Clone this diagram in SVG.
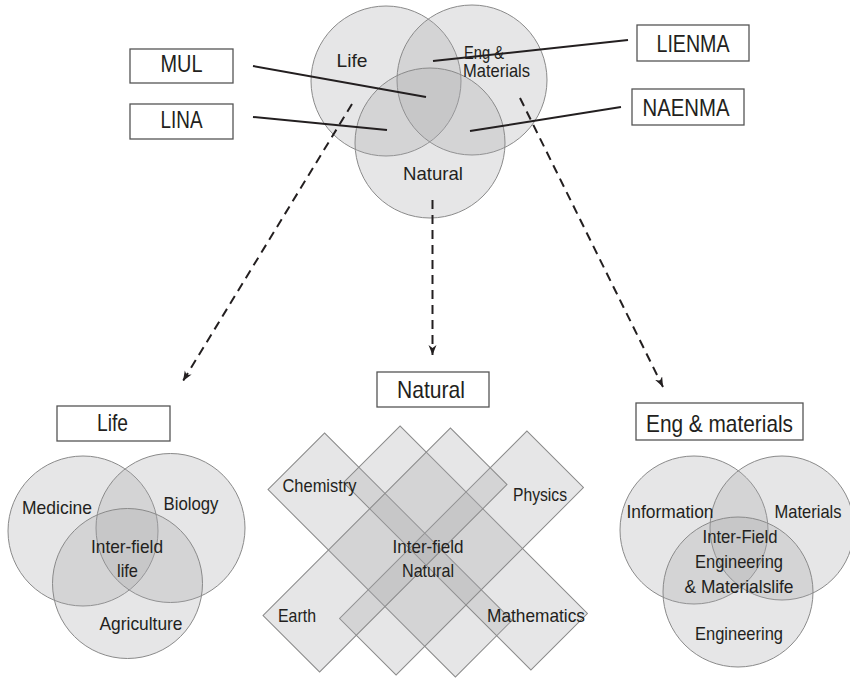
<svg xmlns="http://www.w3.org/2000/svg" width="850" height="678" viewBox="0 0 850 678">
  <defs>
    <style>
      .zone { fill: rgb(166,166,170); fill-opacity: 0.28; stroke: #8a8a8a; stroke-width: 1; }
      .box { fill: #ffffff; stroke: #555555; stroke-width: 1.3; }
      .title { font-family: "Liberation Sans", Arial, sans-serif; font-size: 24px; fill: #231f20; text-anchor: middle; }
      .lbl { font-family: "Liberation Sans", Arial, sans-serif; font-size: 18.5px; fill: #231f20; text-anchor: middle; }
      .lead { stroke: #231f20; stroke-width: 2; fill: none; }
      .dash { stroke: #231f20; stroke-width: 2; fill: none; stroke-dasharray: 9 6; marker-end: url(#head); }
    </style>
    <marker id="head" markerUnits="userSpaceOnUse" markerWidth="12" markerHeight="10" refX="10" refY="4" orient="auto">
      <path d="M0,0 L10,4 L0,8 L3,4 z" fill="#231f20"/>
    </marker>
    <rect id="strip" x="-132.5" y="-40" width="265" height="80"/>
  </defs>

  <!-- overview Venn: Life / Eng & Materials / Natural -->
  <g id="overview">
    <circle class="zone" cx="386" cy="81" r="75"/>
    <circle class="zone" cx="472" cy="80" r="75"/>
    <circle class="zone" cx="430" cy="143" r="75"/>
    <text class="lbl" x="352" y="67" textLength="31" lengthAdjust="spacingAndGlyphs">Life</text>
    <text class="lbl" x="464" y="59" style="text-anchor:start" textLength="40" lengthAdjust="spacingAndGlyphs">Eng &amp;</text>
    <text class="lbl" x="463" y="77" style="text-anchor:start" textLength="67" lengthAdjust="spacingAndGlyphs">Materials</text>
    <text class="lbl" x="433" y="180" textLength="60" lengthAdjust="spacingAndGlyphs">Natural</text>
  </g>

  <!-- overlap tags -->
  <g id="tag-mul">
    <rect class="box" x="130" y="49" width="103" height="34"/>
    <text class="title" x="181.5" y="72" textLength="42" lengthAdjust="spacingAndGlyphs">MUL</text>
  </g>
  <g id="tag-lina">
    <rect class="box" x="130" y="104" width="103" height="35"/>
    <text class="title" x="181.5" y="128" textLength="42" lengthAdjust="spacingAndGlyphs">LINA</text>
  </g>
  <g id="tag-lienma">
    <rect class="box" x="637" y="25" width="112" height="36"/>
    <text class="title" x="693" y="52" textLength="73" lengthAdjust="spacingAndGlyphs">LIENMA</text>
  </g>
  <g id="tag-naenma">
    <rect class="box" x="632" y="89" width="112" height="36"/>
    <text class="title" x="686" y="116" textLength="87" lengthAdjust="spacingAndGlyphs">NAENMA</text>
  </g>

  <!-- connectors -->
  <g id="connectors">
    <line class="lead" x1="253" y1="66" x2="426" y2="97"/>
    <line class="lead" x1="253" y1="117" x2="387" y2="130"/>
    <line class="lead" x1="433" y1="61" x2="628" y2="40"/>
    <line class="lead" x1="470" y1="131" x2="621" y2="107"/>
    <line class="dash" x1="352" y1="104" x2="183" y2="381"/>
    <line class="dash" x1="432.5" y1="200" x2="432.5" y2="355"/>
    <line class="dash" x1="520" y1="98" x2="663" y2="387"/>
  </g>

  <!-- Life detail -->
  <g id="life">
    <rect class="box" x="57" y="406" width="113" height="35"/>
    <text class="title" x="112.5" y="431" textLength="31" lengthAdjust="spacingAndGlyphs">Life</text>
    <circle class="zone" cx="83" cy="531" r="75"/>
    <circle class="zone" cx="170.5" cy="528" r="74.5"/>
    <circle class="zone" cx="127.5" cy="583.5" r="75"/>
    <text class="lbl" x="57" y="514" textLength="70" lengthAdjust="spacingAndGlyphs">Medicine</text>
    <text class="lbl" x="191" y="510" textLength="55" lengthAdjust="spacingAndGlyphs">Biology</text>
    <text class="lbl" x="127" y="553" textLength="72" lengthAdjust="spacingAndGlyphs">Inter-field</text>
    <text class="lbl" x="127.5" y="577" textLength="21" lengthAdjust="spacingAndGlyphs">life</text>
    <text class="lbl" x="141" y="630" textLength="83" lengthAdjust="spacingAndGlyphs">Agriculture</text>
  </g>

  <!-- Natural detail: four crossing strips -->
  <g id="natural">
    <rect class="box" x="377" y="372" width="112" height="35"/>
    <text class="title" x="431" y="398" textLength="68" lengthAdjust="spacingAndGlyphs">Natural</text>
    <use href="#strip" class="zone" transform="translate(390 555) rotate(45)"/>
    <use href="#strip" class="zone" transform="translate(465.5 548) rotate(45)"/>
    <use href="#strip" class="zone" transform="translate(461.5 553) rotate(-45)"/>
    <use href="#strip" class="zone" transform="translate(385 550) rotate(-45)"/>
    <text class="lbl" x="319.5" y="492" textLength="74" lengthAdjust="spacingAndGlyphs">Chemistry</text>
    <text class="lbl" x="540" y="501" textLength="54" lengthAdjust="spacingAndGlyphs">Physics</text>
    <text class="lbl" x="428" y="553" textLength="71" lengthAdjust="spacingAndGlyphs">Inter-field</text>
    <text class="lbl" x="428" y="577" textLength="52" lengthAdjust="spacingAndGlyphs">Natural</text>
    <text class="lbl" x="297" y="622" textLength="38" lengthAdjust="spacingAndGlyphs">Earth</text>
    <text class="lbl" x="536" y="622" textLength="98" lengthAdjust="spacingAndGlyphs">Mathematics</text>
  </g>

  <!-- Eng & materials detail -->
  <g id="eng-materials">
    <rect class="box" x="636" y="403" width="167" height="37"/>
    <text class="title" x="719.5" y="432" textLength="147" lengthAdjust="spacingAndGlyphs">Eng &amp; materials</text>
    <circle class="zone" cx="694" cy="530" r="74"/>
    <circle class="zone" cx="782" cy="528" r="72"/>
    <circle class="zone" cx="738" cy="592" r="75"/>
    <text class="lbl" x="670" y="518" textLength="87" lengthAdjust="spacingAndGlyphs">Information</text>
    <text class="lbl" x="808" y="518" textLength="67" lengthAdjust="spacingAndGlyphs">Materials</text>
    <text class="lbl" x="740" y="543" textLength="75" lengthAdjust="spacingAndGlyphs">Inter-Field</text>
    <text class="lbl" x="739" y="568" textLength="88" lengthAdjust="spacingAndGlyphs">Engineering</text>
    <text class="lbl" x="739" y="593" textLength="109" lengthAdjust="spacingAndGlyphs">&amp; Materialslife</text>
    <text class="lbl" x="739" y="640" textLength="88" lengthAdjust="spacingAndGlyphs">Engineering</text>
  </g>
</svg>
